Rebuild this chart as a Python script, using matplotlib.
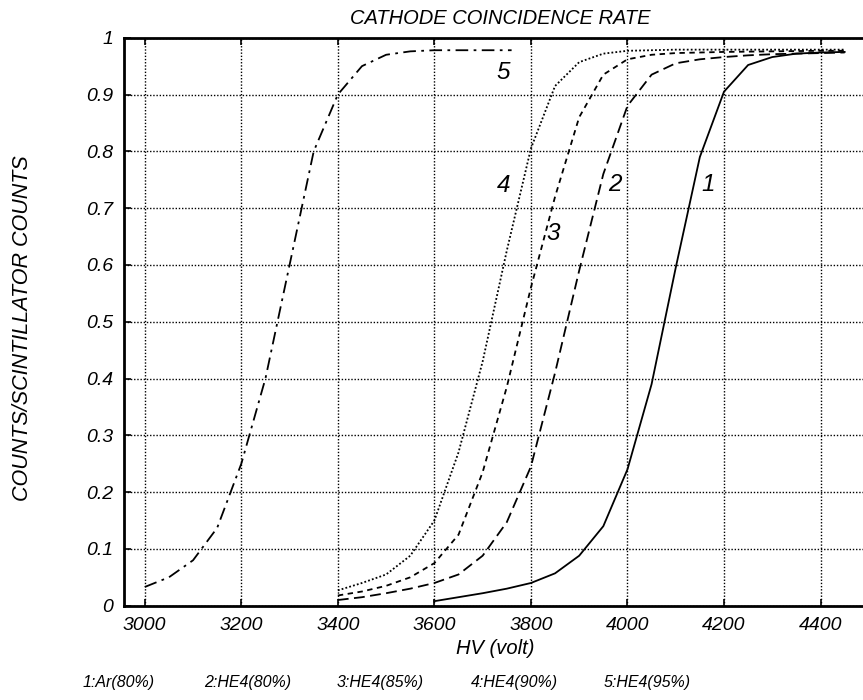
import matplotlib
matplotlib.use('Agg')
import matplotlib.pyplot as plt

plt.rcParams['font.family'] = ['Liberation Sans', 'DejaVu Sans']
plt.rcParams['font.style'] = 'italic'

# HV scan (volt) and coincidence fraction per gas mixture
hv_ar80 = [3600, 3650, 3700, 3750, 3800, 3850, 3900, 3950, 4000, 4050, 4100,
           4150, 4200, 4250, 4300, 4350, 4400, 4450]
rate_ar80 = [0.008, 0.015, 0.022, 0.030, 0.040, 0.057, 0.088, 0.140, 0.240, 0.390,
             0.595, 0.790, 0.905, 0.952, 0.966, 0.972, 0.974, 0.975]

hv_he80 = [3400, 3450, 3500, 3550, 3600, 3650, 3700, 3750, 3800, 3850, 3900,
           3950, 4000, 4050, 4100, 4150, 4200, 4250, 4300, 4350, 4400, 4450]
rate_he80 = [0.010, 0.015, 0.022, 0.030, 0.040, 0.055, 0.088, 0.147, 0.245, 0.410,
             0.590, 0.760, 0.880, 0.935, 0.955, 0.962, 0.966, 0.969, 0.971, 0.972,
             0.973, 0.974]

hv_he85 = [3400, 3450, 3500, 3550, 3600, 3650, 3700, 3750, 3800, 3850, 3900,
           3950, 4000, 4050, 4100, 4200, 4300, 4400, 4450]
rate_he85 = [0.018, 0.025, 0.035, 0.050, 0.075, 0.125, 0.235, 0.385, 0.560, 0.720,
             0.860, 0.935, 0.962, 0.970, 0.973, 0.975, 0.976, 0.977, 0.977]

hv_he90 = [3400, 3450, 3500, 3550, 3600, 3650, 3700, 3750, 3800, 3850, 3900,
           3950, 4000, 4050, 4100, 4200, 4300, 4400, 4450]
rate_he90 = [0.027, 0.040, 0.055, 0.088, 0.150, 0.270, 0.430, 0.625, 0.805, 0.915,
             0.957, 0.972, 0.977, 0.978, 0.979, 0.979, 0.979, 0.979, 0.979]

hv_he95 = [3000, 3050, 3100, 3150, 3200, 3250, 3300, 3350, 3400, 3450, 3500,
           3550, 3600, 3650, 3700, 3760]
rate_he95 = [0.033, 0.050, 0.080, 0.137, 0.250, 0.400, 0.600, 0.800, 0.900, 0.950,
             0.970, 0.976, 0.978, 0.978, 0.978, 0.978]

series = [
    (hv_ar80, rate_ar80, '-', '1'),
    (hv_he80, rate_he80, (0, (6, 3)), '2'),
    (hv_he85, rate_he85, (0, (3, 2.5)), '3'),
    (hv_he90, rate_he90, (0, (1, 1.2)), '4'),
    (hv_he95, rate_he95, (0, (7, 3, 1.5, 3)), '5'),
]
legend_texts = ['1:Ar(80%)', '2:HE4(80%)', '3:HE4(85%)', '4:HE4(90%)', '5:HE4(95%)']

fig = plt.figure(figsize=(8.63, 7.0), dpi=100)
ax = fig.add_axes([0.1437, 0.1347, 0.8563, 0.8114])

for hv, rate, ls, num in series:
    ax.plot(hv, rate, color='black', linestyle=ls, linewidth=1.3)

ax.set_xlim(2957, 4488)
ax.set_ylim(0, 1)
ax.set_xticks(range(3000, 4401, 200))
ax.set_yticks([i / 10 for i in range(11)])
ax.set_yticklabels(['0'] + ['%.1f' % (i / 10) for i in range(1, 10)] + ['1'])

ax.grid(True, color='black', linestyle=(0, (1, 1.3)), linewidth=1.0)
ax.tick_params(direction='in', length=5, width=1.2, labelsize=14, pad=8,
               top=True, right=False)

for side in ['left', 'bottom', 'top']:
    ax.spines[side].set_linewidth(2)
ax.spines['right'].set_visible(False)

# curve numbers next to each line
ax.text(3743, 0.938, '5', fontsize=17.5, ha='center', va='center')
ax.text(3743, 0.740, '4', fontsize=17.5, ha='center', va='center')
ax.text(3975, 0.742, '2', fontsize=17.5, ha='center', va='center')
ax.text(4168, 0.742, '1', fontsize=17.5, ha='center', va='center')
ax.text(3847, 0.656, '3', fontsize=17.5, ha='center', va='center')

fig.text(500 / 863, 1 - 18 / 700, 'CATHODE COINCIDENCE RATE', fontsize=14.5,
         ha='center', va='center')
fig.text(495 / 863, 1 - 648 / 700, 'HV (volt)', fontsize=14.5,
         ha='center', va='center')
fig.text(23 / 863, 1 - 328 / 700, 'COUNTS/SCINTILLATOR COUNTS', fontsize=15.5,
         rotation=90, ha='center', va='center')

for x0, label in zip([83, 204, 337, 471, 604], legend_texts):
    fig.text(x0 / 863, 1 - 683 / 700, label, fontsize=11.5, ha='left', va='center')

fig.savefig('out.png', dpi=100)
